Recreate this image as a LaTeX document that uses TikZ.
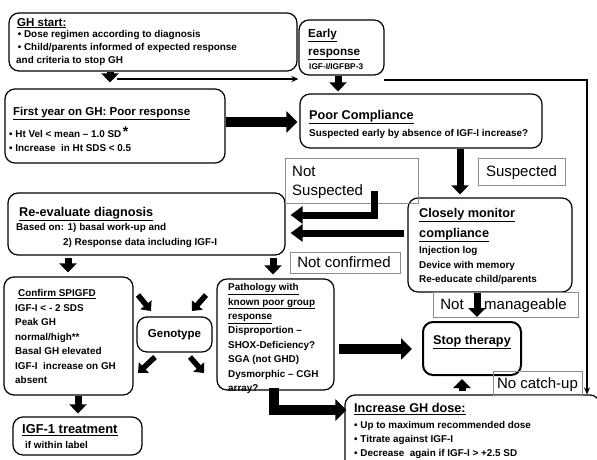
\documentclass[tikz,border=0pt]{standalone}
\usepackage{fontspec}
\setmainfont{Liberation Sans}
\usetikzlibrary{arrows.meta,fit}
\newcommand\fbody[1]{\fontsize{9.9}{#1}\selectfont\bfseries}
\newcommand\fhead[1]{\fontsize{#1}{20}\selectfont\bfseries}
\newcommand\flab{\fontsize{15}{19}\selectfont}
\begin{document}
\begin{tikzpicture}[x=1pt,y=-1pt,
  box/.style={draw=black, line width=1.2pt, rounded corners=10pt, fill=white, inner sep=0pt},
  lab/.style={draw=black!45, line width=0.8pt, inner sep=0pt},
  txt/.style={anchor=north west, inner sep=0pt, align=left},
  bigs/.style={line width=7pt, -{Triangle[width=17pt,length=9pt]}},
  bigm/.style={line width=7pt, -{Triangle[width=17pt,length=12pt]}},
  bigl/.style={line width=9.5pt, -{Triangle[width=21pt,length=11pt]}},
  thinarrow/.style={line width=1.2pt, -{Stealth[length=7pt,width=6pt]}}]
\useasboundingbox[fill=white] (0,0) rectangle (597,460);

% main boxes
\node[box, fit={(9,13)(297,71)}] (gh) {};
\node[box, fit={(299,20)(384,75)}] (early) {};
\node[box, fit={(5,89)(225,163)}] (first) {};
\node[box, fit={(300,94)(542,148)}] (poor) {};
\node[box, fit={(8,193)(285,255)}] (reeval) {};
\node[box, fit={(408,198)(572,292)}] (monitor) {};
\node[box, fit={(4,277)(133,395)}] (confirm) {};
\node[box, fit={(137,317)(212,352)}] (geno) {};
\node[box, fit={(217,279)(334,390)}] (path) {};
\node[box, fit={(13,417)(142,455)}] (igf) {};
\node[box, line width=2pt, fit={(423,322)(521,375)}] (stop) {};
\node[box, fit={(345,395)(600,480)}] (incr) {};

% label boxes
\node[lab, fit={(478,158)(565,185)}] (susp) {};
\node[lab, fit={(285,158)(418,203)}] (notsusp) {};
\node[lab, fit={(290,252)(400,273)}] (notconf) {};
\node[lab, fit={(433,292)(578,317)}] (notman) {};
\node[lab, fit={(493,371)(582,395)}] (nocatch) {};

% texts
\node[txt, font=\fhead{11.5}] (ght) at (17,17.8) {\underline{GH start:}};
\node[txt, font=\fbody{12.7}] (ghb) at (16,30.3) {\,• Dose regimen according to diagnosis\\\,• Child/parents informed of expected response\\and criteria to stop GH};

\node[txt, font={\fontsize{11.7}{18}\selectfont\bfseries}] (eat) at (308,28.6) {\underline{Early}\\\underline{response}};
\node[txt, font={\fontsize{8.3}{10}\selectfont\bfseries}] (eab) at (309,63) {IGF-I/IGFBP-3};

\node[txt, font=\fhead{11.5}] (firstt) at (13,106.8) {\underline{First year on GH: Poor response}};
\node[txt, font=\fbody{14}] (firstb) at (9,126.3) {• Ht Vel < mean – 1.0 SD\,\raisebox{1.5pt}{\fontsize{14}{14}\selectfont *}\\• Increase\ \ in Ht SDS < 0.5};

\node[txt, font=\fhead{12.7}] (poort) at (309,110.2) {\underline{Poor Compliance}};
\node[txt, font=\fbody{14}] (poorb) at (309,129.3) {Suspected early by absence of IGF-I increase?};

\node[txt, font=\fhead{12.7}] (reevalt) at (19,207.2) {\underline{Re-evaluate diagnosis}};
\node[txt, font=\fbody{15}] (reevalb) at (16,223.3) {Based on: 1) basal work-up and\\\hspace*{47pt}2) Response data including IGF-I};

\node[txt, font={\fontsize{12.7}{20}\selectfont\bfseries}] (monitort) at (419,208.2) {\underline{Closely monitor}\\\underline{compliance}};
\node[txt, font=\fbody{14.5}] (monitorb) at (419,246.3) {Injection log\\Device with memory\\Re-educate child/parents};

\node[txt, font=\fbody{14.5}] (confirmb) at (15,289.3) {\hspace*{3pt}\underline{Confirm SPIGFD}\\IGF-I < - 2 SDS\\Peak GH\\normal/high**\\Basal GH elevated\\IGF-I\ \ increase on GH\\absent};

\node[txt, font=\fbody{14.4}] (pathb) at (228,283.3) {\underline{Pathology with}\\\underline{known poor group}\\\underline{response}\\Disproportion –\\SHOX-Deficiency?\\SGA (not GHD)\\Dysmorphic – CGH\\array?};

\node[font=\fhead{11.5}, inner sep=0pt] (genot) at (geno.center) {Genotype};

\node[txt, font=\fhead{12.9}] (igft) at (22,424.2) {\underline{IGF-1 treatment}};
\node[txt, font=\fbody{14}] (igfb) at (25,441.3) {if within label};

\node[txt, font=\fhead{12.7}] (stopt) at (433,335.2) {\underline{Stop therapy}};

\node[txt, font=\fhead{12.7}] (incrt) at (354,403.2) {\underline{Increase GH dose:}};
\node[txt, font=\fbody{14}] (incrb) at (354,421.3) {• Up to maximum recommended dose\\• Titrate against IGF-I\\• Decrease\ \ again if IGF-I > +2.5 SD};

\node[font=\flab, anchor=base, inner sep=0pt] (suspt) at (521.5,176.7) {Suspected};
\node[txt, font=\flab] (notsuspt) at (292,166.3) {Not\\Suspected};
\node[font=\flab, anchor=base, inner sep=0pt] (notconft) at (344,267.7) {Not confirmed};
\node[font=\flab, anchor=base, inner sep=0pt] (notmant1) at (452,309.7) {Not};
\node[font=\flab, anchor=base west, inner sep=0pt] (notmant2) at (484,309.7) {manageable};
\node[font=\flab, anchor=base, inner sep=0pt] (nocatcht) at (537.5,388.2) {No catch-up};

% coordinates
\coordinate (t1) at (117,79);
\coordinate (t2) at (384,80);
\coordinate (ns) at (374,191);
\coordinate (d1a) at (138,295); \coordinate (d1b) at (151,311);
\coordinate (d2a) at (206,295); \coordinate (d2b) at (192,311);
\coordinate (d3a) at (155,357); \coordinate (d3b) at (138,373);
\coordinate (d4a) at (190,357); \coordinate (d4b) at (204,373);

% connectors
\draw[thinarrow] (t1) -- (early.west |- t1);
\draw[thinarrow] (t2) -- (587,80) -- (incr.north -| 587,0);
\draw[bigs, shorten >=6pt] (gh.south -| 110,0) -- (first.north -| 110,0);
\draw[bigs, shorten >=2pt] (early.south -| 338,0) -- (poor.north -| 338,0);
\draw[bigl, shorten >=2pt] (first.east |- 0,122) -- (poor.west |- 0,122);
\draw[bigs, shorten >=3pt] (poor.south -| 460,0) -- (monitor.north -| 460,0);
\draw[bigm, line join=miter] (ns) -- (374,215) -- ([xshift=5pt]reeval.east |- 0,215);
\draw[bigm] ([xshift=-3pt]monitor.west |- 0,233) -- ([xshift=5pt]reeval.east |- 0,233);
\draw[bigs, shorten <=2pt, shorten >=4pt] (reeval.south -| 68,0) -- (confirm.north -| 68,0);
\draw[bigs, shorten <=2pt, shorten >=4pt] (reeval.south -| 273,0) -- (path.north -| 273,0);
\draw[bigs, shorten >=4pt] (monitor.south -| 477,0) -- (stop.north -| 477,0);
\draw[bigl, shorten <=4pt, shorten >=10pt] (path.east |- 0,349) -- (stop.west |- 0,349);
\draw[bigl, line join=miter] ([yshift=3pt]path.south -| 274,0) -- (274,410) -- ([xshift=2pt]incr.west |- 0,410);
\draw[bigs, shorten <=3pt, shorten >=3pt] (incr.north -| 462,0) -- (stop.south -| 462,0);
\draw[bigs, shorten >=3pt] (confirm.south -| 78,0) -- (igf.north -| 78,0);
\draw[line width=5.5pt, -{Triangle[width=14pt,length=8pt]}] (d1a) -- (d1b);
\draw[line width=5.5pt, -{Triangle[width=14pt,length=8pt]}] (d2a) -- (d2b);
\draw[line width=5.5pt, -{Triangle[width=14pt,length=8pt]}] (d3a) -- (d3b);
\draw[line width=5.5pt, -{Triangle[width=14pt,length=8pt]}] (d4a) -- (d4b);
\end{tikzpicture}
\end{document}
